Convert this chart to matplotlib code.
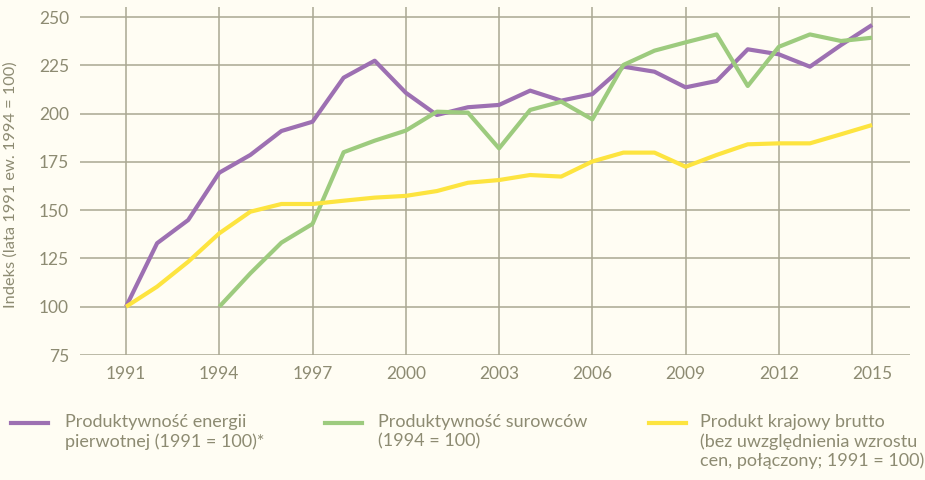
import numpy as np
import matplotlib
matplotlib.use("Agg")
import matplotlib.pyplot as plt
from matplotlib.lines import Line2D

years = np.arange(1991, 2016)

energy = [100, 132.9, 144.9, 169.4, 178.6, 191.0, 195.8, 218.6, 227.4, 210.8,
          199.3, 203.3, 204.5, 211.9, 206.7, 210.1, 224.3, 221.7, 213.6, 216.9,
          233.3, 230.7, 224.3, 235.5, 245.9]

raw_years = np.arange(1994, 2016)
raw = [100, 117.3, 133.2, 142.9, 180.0, 186.0, 191.2, 201.0, 200.5, 182.0,
       201.9, 206.2, 197.0, 225.2, 232.6, 236.9, 241.0, 214.3, 234.6, 241.0,
       237.6, 239.3]

gdp = [100, 110.4, 123.3, 138.0, 149.2, 153.2, 153.2, 154.9, 156.5, 157.4,
       159.9, 164.2, 165.6, 168.2, 167.4, 175.2, 179.8, 179.8, 172.5, 178.6,
       184.1, 184.6, 184.6, 189.3, 194.1]

labels = ["Produktywność energii\npierwotnej (1991 = 100)*",
          "Produktywność surowców\n(1994 = 100)",
          "Produkt krajowy brutto\n(bez uwzględnienia wzrostu\ncen, połączony; 1991 = 100)"]

BG = "#fffdf3"
GRID = "#aaa892"
TXT = "#8d8b72"
PURPLE = "#9d70b2"
GREEN = "#9dcb7e"
YELLOW = "#fde43f"

plt.rcParams['font.family'] = ['Lato', 'DejaVu Sans']

fig = plt.figure(figsize=(9.25, 4.8), dpi=100, facecolor=BG)
ax = fig.add_axes([0.0865, 0.2604, 0.8973, 0.725])
ax.set_facecolor(BG)

ax.plot(years, energy, color=PURPLE, lw=3, solid_capstyle="butt", zorder=3)
ax.plot(raw_years, raw, color=GREEN, lw=3, solid_capstyle="butt", zorder=3)
ax.plot(years, gdp, color=YELLOW, lw=3, solid_capstyle="butt", zorder=3)

ax.set_xlim(1989.52, 2016.22)
ax.set_ylim(75, 255.2)
ax.set_yticks(np.arange(75, 251, 25))
ax.set_xticks([1991, 1994, 1997, 2000, 2003, 2006, 2009, 2012, 2015])
for s in ax.spines.values():
    s.set_visible(False)
ax.grid(True, color=GRID, lw=1.1)
ax.set_axisbelow(True)
ax.tick_params(length=0, colors=TXT, labelsize=12.5, pad=8)
ax.set_ylabel("Indeks (lata 1991 ew. 1994 = 100)", color=TXT, fontsize=11.8)
ax.yaxis.set_label_coords(-0.0747, 0.489)

# legend drawn by hand below the plot
W, H = 925, 480
hx = [11, 325, 649]
tx = [65, 378, 700]
cols = [PURPLE, GREEN, YELLOW]
for i in range(3):
    y = 1 - 423 / H
    fig.add_artist(Line2D([hx[i] / W, (hx[i] + 37) / W], [y, y], color=cols[i],
                          lw=3, transform=fig.transFigure))
    fig.text(tx[i] / W, 1 - 414 / H, labels[i], color=TXT, fontsize=13,
             ha="left", va="top", linespacing=1.22)

fig.savefig("out.png", dpi=100, facecolor=BG)
